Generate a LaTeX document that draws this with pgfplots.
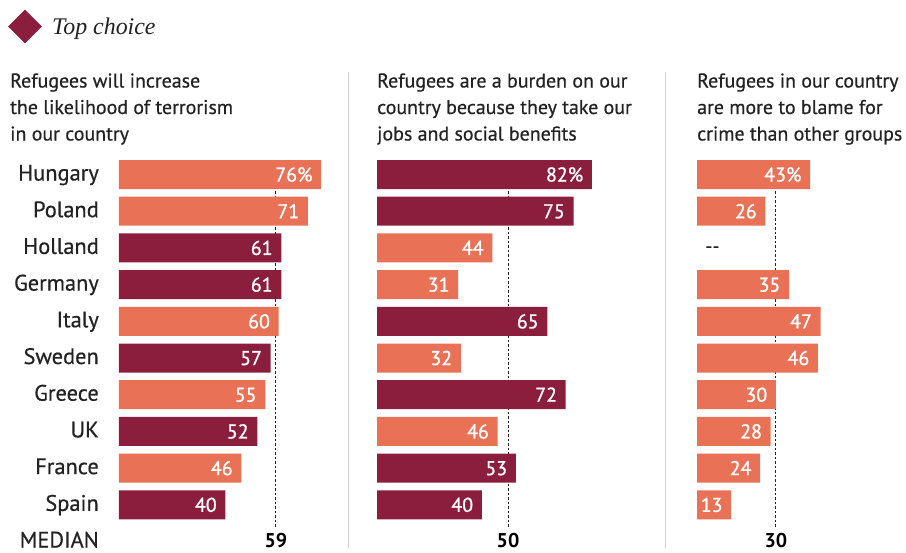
\documentclass[border=0pt]{standalone}
\usepackage{pgfplots}
\pgfplotsset{compat=1.18}
\usetikzlibrary{shapes.geometric}
\usepackage{fontspec}
\setmainfont{PT Sans}
\newfontfamily\medfont[FakeBold=0.5]{PT Sans}
\newfontfamily\semifont[FakeBold=1.1]{PT Sans}
\newfontfamily\serifit{Liberation Serif}
\definecolor{maroon}{RGB}{139,30,61}
\definecolor{salmon}{RGB}{233,113,86}
\definecolor{txt}{RGB}{34,34,34}
\newcommand{\lab}{\fontsize{20}{26.7}\selectfont\medfont}
\newcommand{\clabf}{\fontsize{22.5}{26.7}\selectfont\medfont}
\newcommand{\vlab}{\fontsize{20}{24}\selectfont\semifont}
\pgfplotsset{
  panel/.style={
    hide axis, clip=false,
    x=#1, y=36.7bp, y dir=reverse,
    xmin=0, xmax=85, ymin=-0.5, ymax=10.5,
    anchor=north west,
  },
  hb/.style={
    xbar, bar width=29bp, bar shift=0pt, draw=none, fill=#1,
    point meta=explicit symbolic,
    nodes near coords,
    nodes near coords style={anchor=base east, inner sep=0pt, xshift=-8.5bp, yshift=-7bp, text=white, font=\vlab},
  },
  med/.style={draw=txt, line width=1bp, dash pattern=on 2.5bp off 2bp, no marks},
}
\tikzset{
  mlab/.style={anchor=base, yshift=-5.5bp, font=\fontsize{20}{24}\selectfont\bfseries, text=black, inner sep=0pt},
  clab/.style={anchor=base east, yshift=-6bp, xshift=-20bp, font=\clabf, text=txt, inner sep=0pt},
}
\begin{document}
\begin{tikzpicture}
\path[use as bounding box] (0,0) rectangle (906bp,-553bp);
% legend
\node[diamond, fill=maroon, minimum width=34bp, minimum height=34bp, inner sep=0pt] at (25bp,-26.5bp) {};
\node[anchor=base west, inner sep=0pt, font=\fontsize{24}{26}\selectfont\serifit\itshape, text=txt] at (52bp,-34.5bp) {Top choice};
% separators
\draw[black!18, line width=1bp] (348.5bp,-72bp) -- (348.5bp,-548bp);
\draw[black!18, line width=1bp] (665bp,-72bp) -- (665bp,-548bp);
% titles
\foreach \x/\a/\b/\c in {10/{Refugees will increase}/{the likelihood of terrorism}/{in our country},
  377/{Refugees are a burden on our}/{country because they take our}/{jobs and social benefits},
  697/{Refugees in our country}/{are more to blame for}/{crime than other groups}}{
  \node[anchor=base west, inner sep=0pt, font=\lab, text=txt] at (\x bp,-87.5bp) {\a};
  \node[anchor=base west, inner sep=0pt, font=\lab, text=txt] at (\x bp,-114bp) {\b};
  \node[anchor=base west, inner sep=0pt, font=\lab, text=txt] at (\x bp,-140.5bp) {\c};
}
% panel 1
\begin{axis}[panel=2.66bp, at={(119bp,-156.15bp)}]
\addplot[med] coordinates {(59,-0.4) (59,9.6)};
\addplot[hb=salmon] coordinates {(76,0)[76\%] (71,1)[71] (60,4)[60] (55,6)[55] (46,8)[46]};
\addplot[hb=maroon] coordinates {(61,2)[61] (61,3)[61] (57,5)[57] (52,7)[52] (40,9)[40]};
\node[mlab] at (axis cs:59,10) {59};
\node[clab] at (axis cs:0,0) {Hungary};
\node[clab] at (axis cs:0,1) {Poland};
\node[clab] at (axis cs:0,2) {Holland};
\node[clab] at (axis cs:0,3) {Germany};
\node[clab] at (axis cs:0,4) {Italy};
\node[clab] at (axis cs:0,5) {Sweden};
\node[clab] at (axis cs:0,6) {Greece};
\node[clab] at (axis cs:0,7) {UK};
\node[clab] at (axis cs:0,8) {France};
\node[clab] at (axis cs:0,9) {Spain};
\node[clab] at (axis cs:0,10) {MEDIAN};
\end{axis}
% panel 2
\begin{axis}[panel=2.62bp, at={(377bp,-156.15bp)}]
\addplot[med] coordinates {(50,-0.4) (50,9.6)};
\addplot[hb=maroon] coordinates {(82,0)[82\%] (75,1)[75] (65,4)[65] (72,6)[72] (53,8)[53] (40,9)[40]};
\addplot[hb=salmon] coordinates {(44,2)[44] (31,3)[31] (32,5)[32] (46,7)[46]};
\node[mlab] at (axis cs:50,10) {50};
\end{axis}
% panel 3
\begin{axis}[panel=2.63bp, at={(697bp,-156.15bp)}]
\addplot[med] coordinates {(30,-0.4) (30,9.6)};
\addplot[hb=salmon] coordinates {(43,0)[43\%] (26,1)[26] (35,3)[35] (47,4)[47] (46,5)[46] (30,6)[30] (28,7)[28] (24,8)[24] (13,9)[13]};
\node[mlab] at (axis cs:30,10) {30};
\node[anchor=base west, inner sep=0pt, yshift=-5bp, xshift=8bp, font=\lab, text=txt] at (axis cs:0,2) {{-}{-}};
\end{axis}
\end{tikzpicture}
\end{document}
